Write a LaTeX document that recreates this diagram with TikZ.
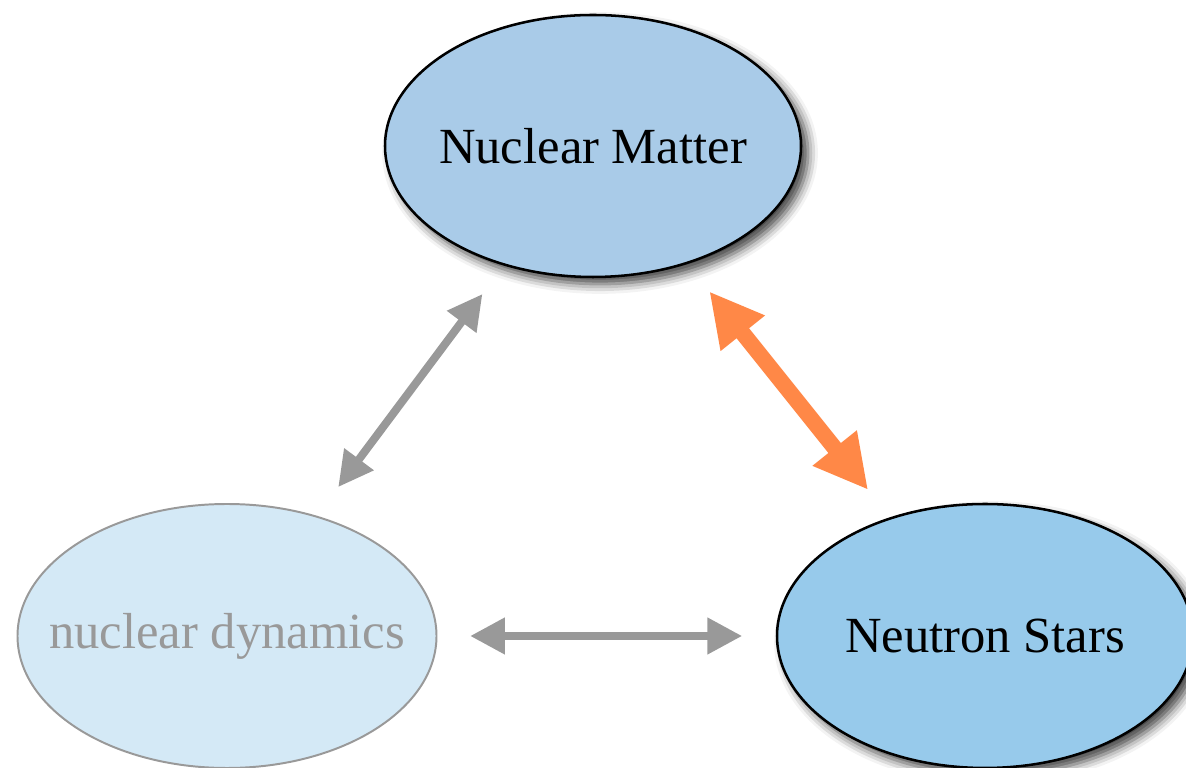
\documentclass[tikz,border=0pt]{standalone}
\usepackage{fontspec}
\setmainfont{Liberation Serif}
\usepackage{xcolor}
\usepackage{tikz}
\usetikzlibrary{arrows.meta,shapes.geometric,shadows.blur}

\definecolor{matterblue}{HTML}{A9CBE8}
\definecolor{starblue}{HTML}{97CAEB}
\definecolor{dynblue}{HTML}{D4E9F6}
\definecolor{linkgray}{HTML}{999999}
\definecolor{linkorange}{HTML}{FF8847}
\newcommand{\eltext}[1]{\makebox[0pt]{#1}}

\begin{document}
\begin{tikzpicture}[font=\fontsize{36}{40}\selectfont,
   el/.style={ellipse,draw,line width=1.8pt,inner sep=0pt,outer sep=0pt,
     minimum width=10.4cm,minimum height=6.55cm},
   shad/.style={blur shadow={shadow xshift=5pt,shadow yshift=-5pt,
     shadow blur radius=7pt,shadow opacity=75}},
   glink/.style={draw=linkgray,line width=5.7pt,
     {Triangle[length=0.87cm,width=0.87cm]}-{Triangle[length=0.87cm,width=0.87cm]}},
   olink/.style={draw=linkorange,line width=11.4pt,
     {Triangle[length=1.34cm,width=1.32cm]}-{Triangle[length=1.34cm,width=1.32cm]}}]
  \useasboundingbox (0,0) rectangle (29.65,19.2);
  \node[el,shad,fill=matterblue] (nm) at (14.825,15.55) {\eltext{Nuclear Matter}};
  \node[el,draw=linkgray,line width=1.4pt,fill=dynblue,text=linkgray,
     minimum width=10.475cm,minimum height=6.6cm] (nd) at (5.675,3.3) {\eltext{nuclear dynamics}};
  \node[el,shad,fill=starblue,minimum height=6.6cm] (ns) at (24.625,3.3) {\eltext{Neutron Stars}};
  \draw[glink,shorten <=0.92cm,shorten >=0.92cm] (nd) -- (nm);
  \draw[olink,shorten <=0.91cm,shorten >=0.91cm] (nm) -- (ns);
  \draw[glink,shorten <=0.84cm,shorten >=0.87cm] (nd) -- (ns);
\end{tikzpicture}
\end{document}
